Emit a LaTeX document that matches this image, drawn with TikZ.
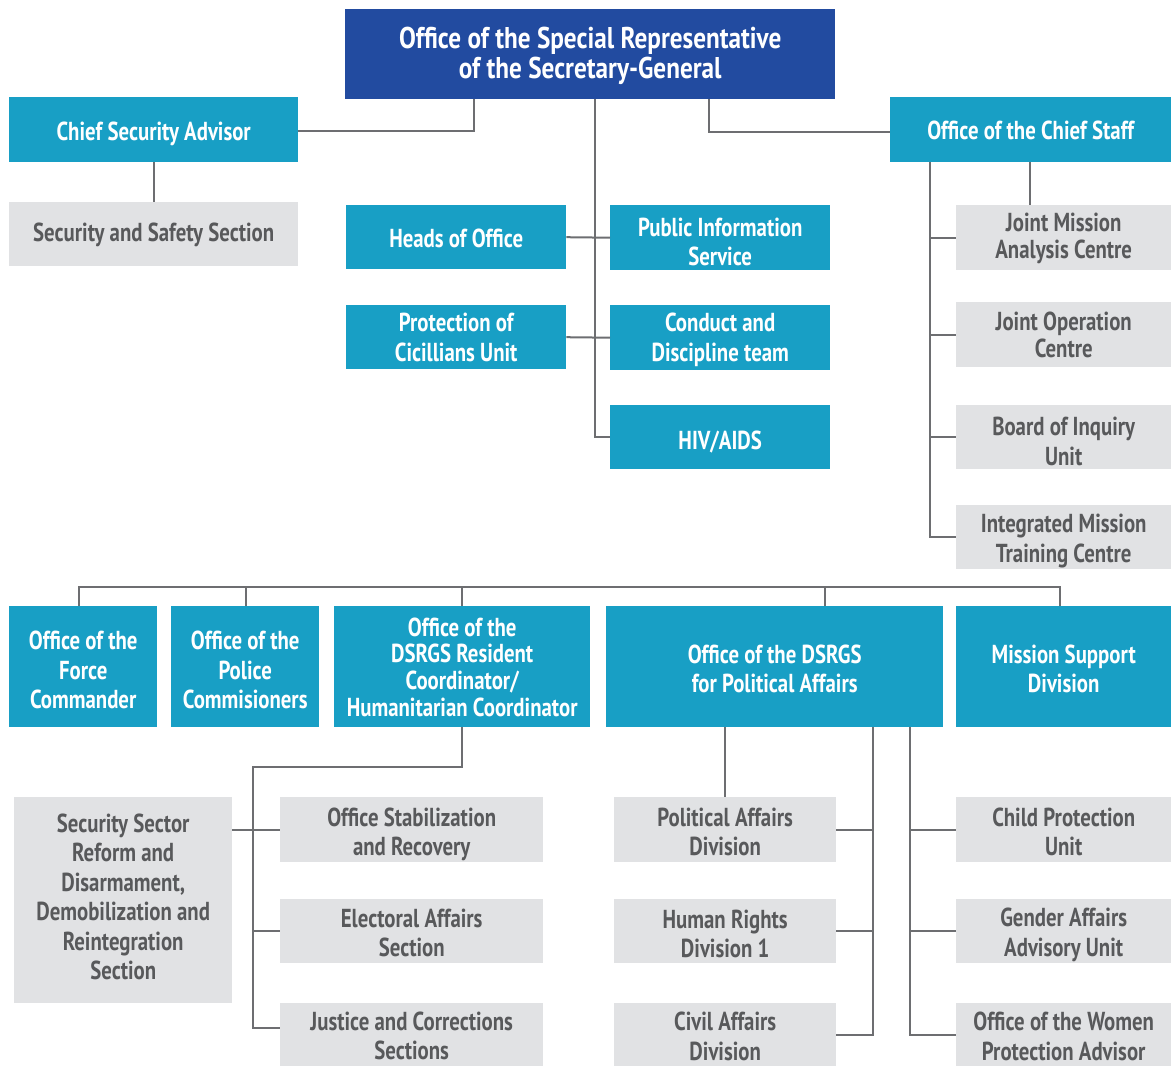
\documentclass[tikz,border=0pt]{standalone}
\usepackage{fontspec}
\setmainfont[FakeStretch=0.8]{PT Sans}
\newfontfamily\titlefont[FakeStretch=0.84]{PT Sans}
\usetikzlibrary{calc}
\definecolor{navy}{RGB}{34,75,160}
\definecolor{teal}{RGB}{24,159,197}
\definecolor{pale}{RGB}{225,226,228}
\definecolor{ink}{RGB}{88,89,91}
\definecolor{wire}{RGB}{109,110,113}
\tikzset{
  box/.style={rectangle, inner sep=0pt, anchor=north west},
  headbox/.style={box, fill=navy},
  unitbox/.style={box, fill=teal},
  subbox/.style={box, fill=pale},
  caption/.style={inner sep=0pt, align=center,
    font=\bfseries\fontsize{26}{29.5}\selectfont},
  headbox label/.style={caption, text=white,
    font=\titlefont\bfseries\fontsize{30}{30}\selectfont},
  unitbox label/.style={caption, text=white},
  subbox label/.style={caption, text=ink},
  link/.style={draw=wire, line width=2pt},
}
% \orgbox[label options]{style}{name}{top-left corner}{width}{height}{text}
\newcommand\orgbox[7][yshift=-2.5]{%
  \node[#2, minimum width=#5, minimum height=#6,
        label={[#2 label, #1]center:{#7}}] (#3) at (#4) {};}
\begin{document}
\begin{tikzpicture}[x=1pt,y=-1pt]
\useasboundingbox (0,0) rectangle (1171,1066);

% ---- top level ----
\orgbox[yshift=-1.5]{headbox}{srsg}{345,9}{490}{90}{Office of the Special Representative\\of the Secretary-General}
\orgbox[yshift=-4]{unitbox}{csa}{9,97}{289}{65}{Chief Security Advisor}
\orgbox[yshift=-1]{subbox}{sss}{9,202}{289}{64}{Security and Safety Section}
\orgbox[yshift=-1]{unitbox}{cos}{890,97}{281}{65}{Office of the Chief Staff}

% ---- offices attached to the SRSG ----
\orgbox[yshift=-1]{unitbox}{hoo}{346,205}{220}{64}{Heads of Office}
\orgbox[yshift=-4]{unitbox}{pis}{610,205}{220}{65}{Public Information\\Service}
\orgbox[yshift=0]{unitbox}{pcu}{346,305}{220}{64}{Protection of\\Cicillians Unit}
\orgbox[yshift=-2]{unitbox}{cdt}{610,305}{220}{65}{Conduct and\\Discipline team}
\orgbox[yshift=-4.5]{unitbox}{hiv}{610,405}{220}{64}{HIV/AIDS}

% ---- units under the Chief of Staff ----
\orgbox[yshift=-0.5, font=\bfseries\fontsize{26}{27}\selectfont]{subbox}{jmac}{956,205}{215}{65}{Joint Mission\\Analysis Centre}
\orgbox[yshift=0, font=\bfseries\fontsize{26}{27}\selectfont]{subbox}{joc}{956,302}{215}{65}{Joint Operation\\Centre}
\orgbox[yshift=-4]{subbox}{boi}{956,405}{215}{64}{Board of Inquiry\\Unit}
\orgbox[yshift=-4]{subbox}{imtc}{956,505}{215}{64}{Integrated Mission\\Training Centre}

% ---- mission components ----
\orgbox[yshift=-3.5]{unitbox}{fc}{9,606}{148}{121}{Office of the\\Force\\Commander}
\orgbox[yshift=-3.5]{unitbox}{pc}{171,606}{148}{121}{Office of the\\Police\\Commisioners}
\orgbox[yshift=-0.5, font=\bfseries\fontsize{26}{26.8}\selectfont]{unitbox}{rc}{334,606}{256}{121}{Office of the\\DSRGS Resident\\Coordinator/\\Humanitarian Coordinator}
\orgbox[yshift=-2]{unitbox}{pa}{606,606}{337}{121}{Office of the DSRGS\\for Political Affairs}
\orgbox[yshift=-2]{unitbox}{msd}{956,606}{215}{121}{Mission Support\\Division}

% ---- under the DSRGS RC/HC ----
\orgbox[yshift=3.5]{subbox}{ssr}{14,797}{218}{206}{Security Sector\\Reform and\\Disarmament,\\Demobilization and\\Reintegration\\Section}
\orgbox[yshift=-4.5]{subbox}{osr}{280,797}{263}{65}{Office Stabilization\\and Recovery}
\orgbox[yshift=-1.5]{subbox}{eas}{280,899}{263}{64}{Electoral Affairs\\Section}
\orgbox[yshift=-1]{subbox}{jcs}{280,1003}{263}{63}{Justice and Corrections\\Sections}

% ---- under the DSRGS for Political Affairs ----
\orgbox[yshift=-2]{subbox}{pad}{614,797}{222}{65}{Political Affairs\\Division}
\orgbox[yshift=-2.5]{subbox}{hrd}{614,899}{222}{64}{Human Rights\\Division 1}
\orgbox[yshift=-1.5]{subbox}{cad}{614,1003}{222}{63}{Civil Affairs\\Division}
\orgbox[yshift=-2]{subbox}{cpu}{956,797}{215}{65}{Child Protection\\Unit}
\orgbox[yshift=-3.5]{subbox}{gaa}{956,899}{215}{64}{Gender Affairs\\Advisory Unit}
\orgbox[yshift=-1.5]{subbox}{wpa}{956,1003}{215}{63}{Office of the Women\\Protection Advisor}

% ---- connectors: top level ----
\coordinate (tL) at ([xshift=129]srsg.south west);
\coordinate (tM) at ([xshift=250]srsg.south west);
\coordinate (tR) at ([xshift=364]srsg.south west);
\draw[link] (tL) |- ([yshift=-1.5]csa.east);
\draw[link] (tR) |- ([yshift=-2.5]cos.west);
\draw[link] (tM) |- (hiv.west);
\draw[link] (csa.south -| sss.north) -- (sss.north);
\draw[link] (hoo.east) -- (pis.west);
\draw[link] (pcu.east) -- (cdt.west);

% ---- connectors: Chief of Staff ----
\coordinate (cA) at ([xshift=140]cos.south west);
\coordinate (cB) at ([xshift=40]cos.south west);
\draw[link] (cA) -- (cA |- jmac.north);
\draw[link] (cB) |- (imtc.west);
\foreach \n in {jmac,joc,boi} \draw[link] (cB |- \n.west) -- (\n.west);

% ---- connectors: bus over the mission components ----
\coordinate (bus) at ([yshift=19]fc.north);
\coordinate (fcT) at ([xshift=-4]fc.north);
\coordinate (pcT) at ([xshift=1]pc.north);
\coordinate (paT) at ([xshift=-118]pa.north east);
\coordinate (msT) at ([xshift=-3.5]msd.north);
\draw[link] (fcT) -- (fcT |- bus) -- (msT |- bus) -- (msT);
\foreach \n in {pcT,rc.north,paT} \draw[link] (\n) -- (\n |- bus);

% ---- connectors: DSRGS RC/HC ----
\coordinate (rcS) at ([yshift=-40]rc.south);
\coordinate (rcV) at ([xshift=-27]osr.west);
\draw[link] (rc.south) -- (rcS) -| ([yshift=6.5]rcV |- jcs.west) -- ([yshift=6.5]jcs.west);
\draw[link] (ssr.east |- osr.west) -- (osr.west);
\draw[link] (rcV |- eas.west) -- (eas.west);

% ---- connectors: DSRGS Political Affairs ----
\coordinate (pL) at ([xshift=267]pa.south west);
\coordinate (pR) at ([xshift=304]pa.south west);
\draw[link] (pa.south -| pad.north) -- (pad.north);
\draw[link] (pL) |- (cad.east);
\foreach \n in {pad,hrd} \draw[link] (pL |- \n.east) -- (\n.east);
\draw[link] (pR) |- (wpa.west);
\foreach \n in {cpu,gaa} \draw[link] (pR |- \n.west) -- (\n.west);
\end{tikzpicture}
\end{document}
